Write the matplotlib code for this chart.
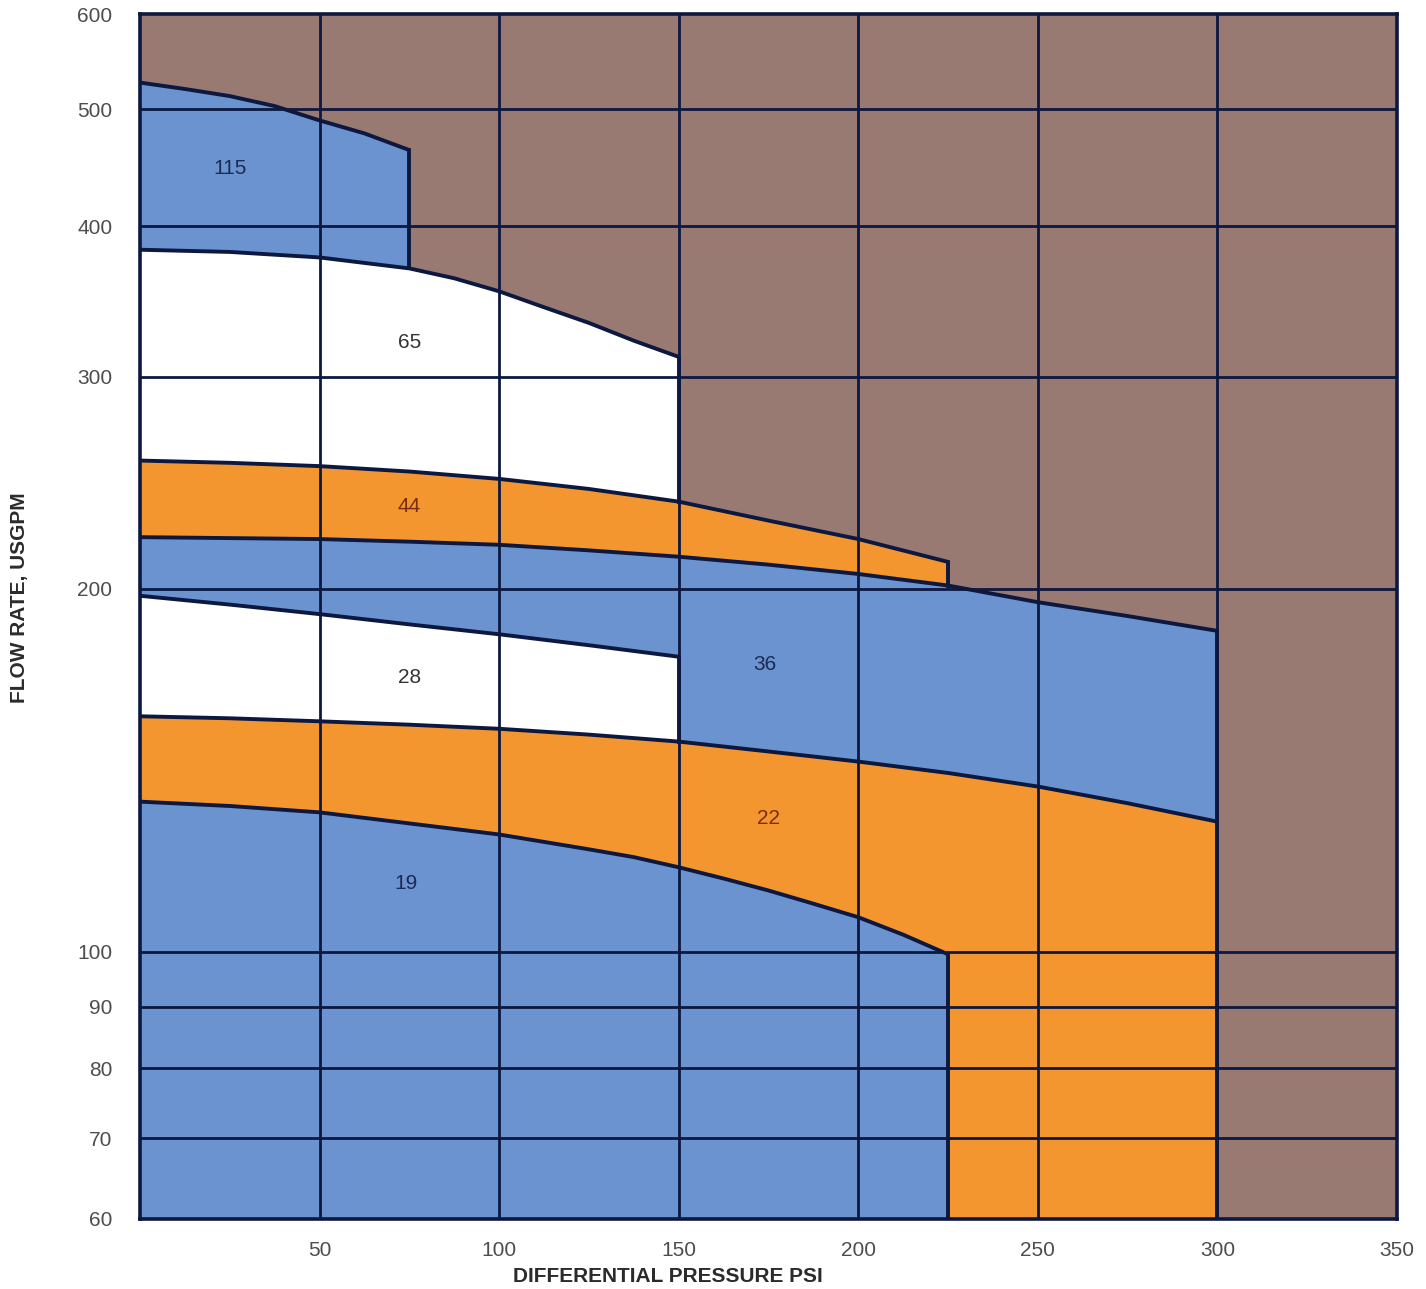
import matplotlib
matplotlib.use("Agg")
import matplotlib.pyplot as plt
from matplotlib.ticker import FixedLocator, NullLocator, FixedFormatter

plt.rcParams['font.family'] = ['Liberation Sans', 'DejaVu Sans']

# ---- data (pressure psi -> flow USGPM upper boundary of each model region) ----
x19 = [0, 25, 50, 100, 125, 137.5, 150, 162.5, 175, 187.5, 200, 212.5, 225]
y19 = [133.2, 132.1, 130.5, 125.1, 121.6, 119.8, 117.5, 115.0, 112.4, 109.6, 106.8, 103.3, 99.5]

x22 = [0, 25, 50, 75, 100, 125, 150, 175, 200, 225, 250, 275, 300]
y22 = [156.8, 156.2, 155.3, 154.3, 153.1, 151.4, 149.4, 146.6, 143.8, 140.7, 137.1, 132.8, 128.2]

x28 = [0, 25, 50, 75, 100, 125, 150]
y28 = [197.4, 194.1, 190.6, 186.9, 183.4, 179.6, 175.7]

x36 = [0, 25, 50, 75, 100, 125, 150, 175, 200, 225, 250, 275, 300]
y36 = [220.8, 220.4, 220.0, 218.9, 217.6, 215.3, 212.7, 209.5, 205.8, 201.3, 195.0, 189.9, 184.6]

x44 = [0, 25, 50, 75, 100, 125, 150, 175, 200, 225]
y44 = [255.6, 254.5, 252.9, 250.3, 246.8, 242.1, 236.3, 227.9, 220.0, 210.6]

x65 = [0, 25, 50, 75, 87.5, 100, 112.5, 125, 137.5, 150]
y65 = [382.4, 380.8, 376.8, 369.0, 362.1, 353.2, 342.6, 332.5, 321.4, 311.6]

x115 = [0, 12.5, 25, 37.5, 50, 62.5, 75]
y115 = [526.3, 519.9, 512.9, 503.2, 489.6, 477.6, 462.6]

region_names = ["115", "65", "44", "36", "28", "22", "19"]
label_x = [25, 75, 75, 174, 75, 175, 74]
label_y = [447, 320, 234, 173, 169, 129, 114]

x_ticks = [50, 100, 150, 200, 250, 300, 350]
y_ticks = [60, 70, 80, 90, 100, 200, 300, 400, 500, 600]

# ---- style ----
BROWN = "#987a72"
BLUE = "#6b93cf"
ORANGE = "#f4962f"
WHITE = "#ffffff"
NAVY = "#0c1840"

fig = plt.figure(figsize=(14.26, 12.89), dpi=100)
ax = fig.add_axes([140/1426, 1 - 1219/1289, (1397-140)/1426, (1219-14)/1289])
ax.set_facecolor(BROWN)
ax.set_yscale('log')
ax.set_xlim(0, 350)
ax.set_ylim(60, 600)

YMIN = 60
layers = [
    (x115, y115, BLUE),
    (x65, y65, WHITE),
    (x44, y44, ORANGE),
    (x36, y36, BLUE),
    (x28, y28, WHITE),
    (x22, y22, ORANGE),
    (x19, y19, BLUE),
]
for xs, ys, col in layers:
    ax.fill_between(xs, ys, YMIN, color=col, lw=0, zorder=1)

LW = 2.8
for xs, ys, col in layers:
    ax.plot(xs, ys, color=NAVY, lw=LW, zorder=3, solid_capstyle='butt',
            solid_joinstyle='round')

# right-hand vertical edges of regions
edges = [
    (x115[-1], y65[x65.index(x115[-1])], y115[-1]),
    (x65[-1], y44[x44.index(x65[-1])], y65[-1]),
    (x44[-1], y36[x36.index(x44[-1])], y44[-1]),
    (x28[-1], y22[x22.index(x28[-1])], y28[-1]),
    (x36[-1], y22[-1], y36[-1]),
    (x22[-1], YMIN, y22[-1]),
    (x19[-1], YMIN, y19[-1]),
]
for xe, ylo, yhi in edges:
    ax.plot([xe, xe], [ylo, yhi], color=NAVY, lw=LW, zorder=3)

# grid
for xv in x_ticks[:-1]:
    ax.axvline(xv, color=NAVY, lw=2.0, zorder=2.5)
for yv in y_ticks[1:-1]:
    ax.axhline(yv, color=NAVY, lw=2.0, zorder=2.5)

for sp in ax.spines.values():
    sp.set_color(NAVY)
    sp.set_linewidth(2.6)
    sp.set_zorder(4)

ax.xaxis.set_major_locator(FixedLocator(x_ticks))
ax.xaxis.set_major_formatter(FixedFormatter([str(v) for v in x_ticks]))
ax.yaxis.set_major_locator(FixedLocator(y_ticks))
ax.yaxis.set_major_formatter(FixedFormatter([str(v) for v in y_ticks]))
ax.xaxis.set_minor_locator(NullLocator())
ax.yaxis.set_minor_locator(NullLocator())
ax.tick_params(axis='both', length=0, labelsize=15, labelcolor="#4d4d4d")
ax.tick_params(axis='x', pad=16)
ax.tick_params(axis='y', pad=20)

label_colors = {"115": "#1c2a55", "65": "#333333", "44": "#7a2c10", "36": "#1c2a55",
                "28": "#333333", "22": "#7a2c10", "19": "#1c2a55"}
for name, lx, ly in zip(region_names, label_x, label_y):
    ax.text(lx, ly, name, ha='center', va='center', fontsize=15,
            color=label_colors[name], zorder=5)

fig.text(668/1426, 1 - 1277/1289, "DIFFERENTIAL PRESSURE PSI", ha='center', va='center',
         fontsize=15, fontweight='bold', color="#2b2b2b")
fig.text(20/1426, 1 - 598/1289, "FLOW RATE, USGPM", ha='center', va='center',
         rotation=90, fontsize=15, fontweight='bold', color="#2b2b2b")

fig.savefig("out.png", dpi=100)
